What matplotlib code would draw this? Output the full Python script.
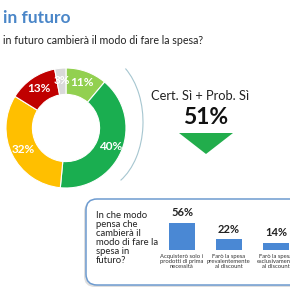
import numpy as np
import matplotlib
matplotlib.use("Agg")
import matplotlib.pyplot as plt
from matplotlib.patches import FancyBboxPatch, Arc, Polygon

plt.rcParams['font.family'] = ['Lato', 'DejaVu Sans']

# donut data (clockwise from top)
donut_labels = ["Prob. Sì", "Cert. Sì", "Prob. No", "Cert. No", "Non so"]
donut_values = [11, 40, 32, 13, 3]
donut_colors = ["#92d050", "#1aae50", "#ffbf00", "#c00000", "#d9d9d9"]

# bar data
bar_labels = ["Acquisterò solo i\nprodotti di prima\nnecessità",
              "Farò la spesa\nprevalentemente\nal discount",
              "Farò la spesa\nesclusivamente\nal discount"]
bar_values = [56, 22, 14]

total_si = 51

W = H = 290
fig = plt.figure(figsize=(2.9, 2.9), dpi=100)
fig.patch.set_facecolor("white")

def px_axes(left, top, width, height):
    # axes from pixel box (origin top-left)
    return fig.add_axes([left / W, 1 - (top + height) / H, width / W, height / H])

# overlay for decorations, pixel coords
deco = px_axes(0, 0, W, H)
deco.set_xlim(0, W)
deco.set_ylim(H, 0)
deco.axis("off")

deco.text(3, 18, "in futuro", fontsize=12.5, fontweight="bold", color="#4a86c8",
          va="center", ha="left")
deco.text(3, 40, "in futuro cambierà il modo di fare la spesa?", fontsize=7.7,
          color="#222222", va="center", ha="left")

# bracket arc
deco.add_patch(Arc((97, 122), 92, 136, theta1=-62, theta2=68, color="#a6c6d0", lw=0.8))

deco.text(200, 96, "Cert. Sì + Prob. Sì", fontsize=9.3, color="#222222",
          va="center", ha="center")
deco.text(206, 118, f"{total_si}%", fontsize=16.5, fontweight="bold", color="#111111",
          va="center", ha="center")
deco.add_patch(Polygon([(179, 133), (233, 133), (206, 154)], closed=True,
                       facecolor="#22ad4c", edgecolor="none"))

# rounded box with shadow
deco.add_patch(FancyBboxPatch((84, 201), 230, 86, boxstyle="round,pad=0,rounding_size=11",
                              facecolor="#d0d0d0", edgecolor="none", alpha=0.7))
deco.add_patch(FancyBboxPatch((86, 199), 230, 86, boxstyle="round,pad=0,rounding_size=11",
                              facecolor="white", edgecolor="#6d9bd0", lw=1.1))
deco.text(96, 211, "In che modo\npensa che\ncambierà il\nmodo di fare la\nspesa in\nfuturo?",
          fontsize=6.8, color="#222222", va="top", ha="left", linespacing=1.0)

# donut
ax = px_axes(6, 68, 120, 120)
wedges, _ = ax.pie(donut_values, colors=donut_colors, startangle=90, counterclock=False,
                   radius=1, wedgeprops=dict(width=0.44, edgecolor="white", linewidth=0.8))
for w, v in zip(wedges, donut_values):
    ang = np.deg2rad((w.theta1 + w.theta2) / 2)
    ax.text(0.8 * np.cos(ang), 0.8 * np.sin(ang), f"{v}%", color="white",
            fontsize=8.5, fontweight="bold", ha="center", va="center")
ax.set_xlim(-1, 1)
ax.set_ylim(-1, 1)

# bars
bx = px_axes(158.5, 210, 133, 40)
x = np.arange(len(bar_values))
bx.bar(x, bar_values, width=0.55, color="#4a88d4")
for xi, v in zip(x, bar_values):
    bx.annotate(f"{v}%", (xi, v), xytext=(0, 3.5), textcoords="offset points",
                ha="center", va="bottom", fontsize=8, fontweight="bold", color="#222222")
bx.set_xlim(-0.5, 2.33)
bx.set_ylim(0, 83)
bx.set_xticks(x)
bx.set_xticklabels(bar_labels, fontsize=4.2, color="#333333", linespacing=1.0)
bx.tick_params(axis="x", length=0, pad=3)
bx.set_yticks([])
for s in bx.spines.values():
    s.set_visible(False)
bx.patch.set_alpha(0)

fig.savefig("out.png", dpi=100)
